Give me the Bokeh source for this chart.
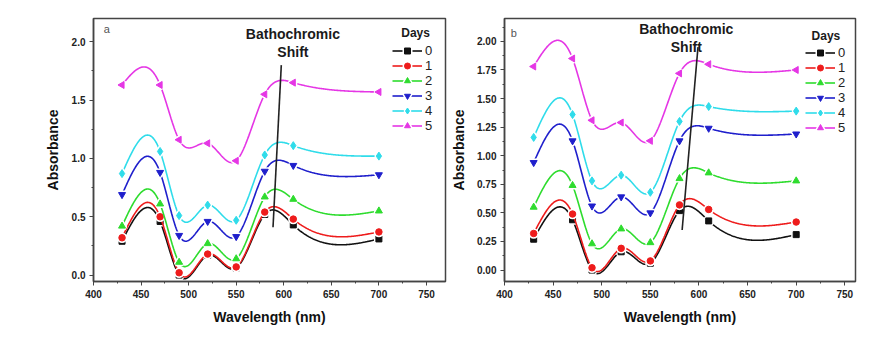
import numpy as np
from bokeh.plotting import figure
from bokeh.layouts import row
from bokeh.models import Range1d, SingleIntervalTicker, Legend, LegendItem, Label, NumeralTickFormatter
from bokeh.embed import file_html
from bokeh.resources import INLINE

# ---------------- data ----------------
wavelength = [430, 470, 490, 520, 550, 580, 610, 700]
days = ["0", "1", "2", "3", "4", "5"]

a_day0 = [0.29, 0.46, 0.00, 0.17, 0.06, 0.52, 0.43, 0.31]
a_day1 = [0.32, 0.50, 0.02, 0.18, 0.07, 0.54, 0.48, 0.37]
a_day2 = [0.42, 0.61, 0.11, 0.27, 0.14, 0.67, 0.65, 0.55]
a_day3 = [0.69, 0.88, 0.34, 0.46, 0.33, 0.89, 0.94, 0.86]
a_day4 = [0.87, 1.06, 0.51, 0.60, 0.47, 1.03, 1.11, 1.02]
a_day5 = [1.63, 1.63, 1.16, 1.13, 0.98, 1.55, 1.65, 1.57]

b_day0 = [0.27, 0.44, 0.00, 0.16, 0.06, 0.52, 0.43, 0.31]
b_day1 = [0.32, 0.49, 0.02, 0.19, 0.08, 0.57, 0.53, 0.42]
b_day2 = [0.55, 0.74, 0.23, 0.36, 0.24, 0.80, 0.85, 0.78]
b_day3 = [0.94, 1.13, 0.56, 0.64, 0.50, 1.13, 1.24, 1.19]
b_day4 = [1.16, 1.36, 0.78, 0.83, 0.68, 1.30, 1.43, 1.39]
b_day5 = [1.78, 1.85, 1.31, 1.29, 1.13, 1.72, 1.80, 1.75]

shift_a_x = [588.7, 597.4]
shift_a_y = [0.41, 1.80]
shift_b_x = [582.7, 599.0]
shift_b_y = [0.35, 1.95]

colors = ["#111111", "#ee1c1c", "#2edc2e", "#1f1fcc", "#2fdcea", "#e536e5"]
markers = ["square", "circle", "triangle", "inverted_triangle", "diamond", "triangle"]
angles = [0, 0, 0, 0, 0, np.pi / 2]
msizes = [6, 6.5, 7, 7, 8, 7]

FONT = "Liberation Sans"


def natural_spline(xs, ys, num=400):
    x = np.asarray(xs, float)
    y = np.asarray(ys, float)
    n = len(x)
    h = np.diff(x)
    A = np.zeros((n, n))
    r = np.zeros(n)
    A[0, 0] = 1
    A[-1, -1] = 1
    for i in range(1, n - 1):
        A[i, i - 1] = h[i - 1]
        A[i, i] = 2 * (h[i - 1] + h[i])
        A[i, i + 1] = h[i]
        r[i] = 6 * ((y[i + 1] - y[i]) / h[i] - (y[i] - y[i - 1]) / h[i - 1])
    M = np.linalg.solve(A, r)
    xx = np.linspace(x[0], x[-1], num)
    idx = np.clip(np.searchsorted(x, xx) - 1, 0, n - 2)
    x0 = x[idx]
    x1 = x[idx + 1]
    hh = x1 - x0
    a = (x1 - xx) / hh
    b = (xx - x0) / hh
    yy = a * y[idx] + b * y[idx + 1] + ((a ** 3 - a) * M[idx] + (b ** 3 - b) * M[idx + 1]) * hh ** 2 / 6
    return xx, yy


def make_panel(series, letter, yr, y_interval, y_fmt, width, bl, br, bb, shift_x, shift_y,
               letter_pos, text_pos, days_pos, legend_loc, ylab_standoff):
    p = figure(width=width, height=335, x_range=Range1d(400, yr[2]), y_range=Range1d(yr[0], yr[1]),
               output_backend="svg", toolbar_location=None,
               min_border_left=bl, min_border_right=br, min_border_top=18, min_border_bottom=bb)
    p.xgrid.visible = False
    p.ygrid.visible = False
    p.outline_line_color = "#444444"
    p.outline_line_width = 1.5
    p.background_fill_color = "white"
    p.border_fill_color = "white"

    p.xaxis.ticker = SingleIntervalTicker(interval=50, num_minor_ticks=2)
    p.yaxis.ticker = SingleIntervalTicker(interval=y_interval, num_minor_ticks=2)
    p.yaxis.formatter = NumeralTickFormatter(format=y_fmt)
    for ax in (p.xaxis[0], p.yaxis[0]):
        ax.axis_line_color = "#444444"
        ax.axis_line_width = 1.5
        ax.major_tick_in = 0
        ax.major_tick_out = 4
        ax.minor_tick_in = 0
        ax.minor_tick_out = 2
        ax.major_tick_line_color = "#444444"
        ax.minor_tick_line_color = "#444444"
        ax.major_label_text_font = FONT
        ax.major_label_text_font_style = "bold"
        ax.major_label_text_font_size = "10px"
        ax.major_label_text_color = "#222222"
        ax.axis_label_text_font = FONT
        ax.axis_label_text_font_style = "bold"
        ax.axis_label_text_font_size = "14px"
        ax.axis_label_text_color = "#111111"
        ax.major_label_standoff = 4
    p.xaxis.axis_label = "Wavelength (nm)"
    p.yaxis.axis_label = "Absorbance"
    p.xaxis.axis_label_standoff = 8
    p.yaxis.axis_label_standoff = ylab_standoff

    items = []
    for i, ys in enumerate(series):
        xx, yy = natural_spline(wavelength, ys)
        lr = p.line(xx, yy, line_color=colors[i], line_width=1.6)
        hr = p.scatter(wavelength, ys, marker=markers[i], angle=angles[i], size=msizes[i],
                       fill_color="white", line_color="white", line_width=4)
        mr = p.scatter(wavelength, ys, marker=markers[i], angle=angles[i], size=msizes[i],
                       fill_color=colors[i], line_color=colors[i], line_width=1)
        items.append(LegendItem(label=days[i], renderers=[lr, hr, mr]))

    p.line(shift_x, shift_y, line_color="#222222", line_width=1.6)

    legend = Legend(items=items, location=legend_loc, orientation="vertical",
                    glyph_width=30, glyph_height=15, label_height=15, spacing=0,
                    padding=2, margin=0, label_standoff=3,
                    label_text_font=FONT, label_text_font_size="13px", label_text_color="#222222",
                    border_line_color=None, background_fill_alpha=0)
    p.add_layout(legend)

    p.add_layout(Label(x=letter_pos[0], y=letter_pos[1], text=letter, text_font=FONT,
                       text_font_size="11px", text_color="#555555", text_align="center",
                       text_baseline="middle"))
    p.add_layout(Label(x=text_pos[0], y=text_pos[1], text="Bathochromic", text_font=FONT,
                       text_font_size="14px", text_font_style="bold", text_color="#1a1a1a",
                       text_align="center", text_baseline="middle"))
    p.add_layout(Label(x=text_pos[0], y=text_pos[2], text="Shift", text_font=FONT,
                       text_font_size="14px", text_font_style="bold", text_color="#1a1a1a",
                       text_align="center", text_baseline="middle"))
    p.add_layout(Label(x=days_pos[0], y=days_pos[1], text="Days", text_font=FONT,
                       text_font_size="12px", text_font_style="bold", text_color="#1a1a1a",
                       text_align="center", text_baseline="middle"))
    return p


pa = make_panel([a_day0, a_day1, a_day2, a_day3, a_day4, a_day5], "a", (-0.055, 2.2, 770), 0.5, "0.0",
                448, 93, 3, 53, shift_a_x, shift_a_y,
                (414, 2.11), (609.6, 2.07, 1.91), (738.6, 2.078), (299, 148), 8)
pb = make_panel([b_day0, b_day1, b_day2, b_day3, b_day4, b_day5], "b", (-0.10, 2.2, 761), 0.25, "0.00",
                433, 53, 26, 54, shift_b_x, shift_b_y,
                (409.5, 2.07), (587, 2.108, 1.947), (730.6, 2.05), (301, 146), 7)

layout = row(pa, pb)
open("out.html", "w").write(file_html(layout, INLINE))
